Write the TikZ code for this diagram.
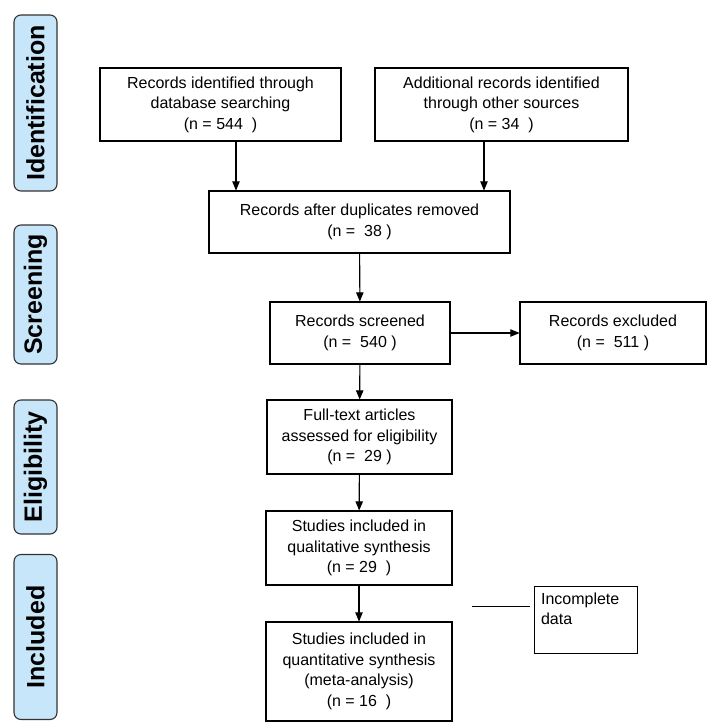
\documentclass[tikz,border=0pt]{standalone}
\usepackage{fontspec}
\setmainfont{Liberation Sans}
\usetikzlibrary{arrows}
\definecolor{stageblue}{RGB}{200,230,250}
\begin{document}
\begin{tikzpicture}[x=1pt,y=-1pt,
                    >=triangle 45,
                    line width=1.1pt,
                    box/.style={rectangle,draw,align=center,font=\fontsize{16}{20.5}\selectfont,inner sep=2pt},
                    stage/.style={rectangle,rounded corners=7pt,draw=black!80,fill=stageblue,
                                  font=\fontsize{25}{27}\selectfont\bfseries,rotate=90}
                    ]
  \useasboundingbox (0,0) rectangle (708,725);
  % stages
  \node[stage,minimum width=176,minimum height=43] (ident) at (35.5,103) {Identification};
  \node[stage,minimum width=139,minimum height=43] (screen) at (35.5,294.5) {Screening};
  \node[stage,minimum width=134,minimum height=43] (elig) at (35.5,467) {Eligibility};
  \node[stage,minimum width=165,minimum height=43] (incl) at (35.5,637) {Included};
  % boxes
  \node[box,minimum width=241,minimum height=73] (db) at (220.5,104.5) {Records identified through\\database searching\\(n = 544\ \ )};
  \node[box,minimum width=253,minimum height=73] (other) at (501.5,104.5) {Additional records identified\\through other sources\\(n = 34\ \ )};
  \node[box,minimum width=301,minimum height=62] (dup) at (359.5,222) {Records after duplicates removed\\(n =\ \ 38 )};
  \node[box,minimum width=180,minimum height=62] (scr) at (360,333) {Records screened\\(n =\ \ 540 )};
  \node[box,minimum width=186,minimum height=62] (excl) at (613,333) {Records excluded\\(n =\ \ 511 )};
  \node[box,minimum width=185,minimum height=74] (full) at (359.5,437) {Full-text articles\\assessed for eligibility\\(n =\ \ 29 )};
  \node[box,minimum width=186,minimum height=74] (qual) at (359,548) {Studies included in\\qualitative synthesis\\(n = 29\ \ )};
  \node[box,minimum width=186,minimum height=99] (quant) at (359,671.5) {Studies included in\\quantitative synthesis\\(meta-analysis)\\(n = 16\ \ )};
  \node[box,minimum width=103,minimum height=64,align=left,anchor=north west,text width=90,inner sep=6pt] (incomp) at (534,586) {Incomplete\\data\\[-4pt]\strut};
  \coordinate (a1) at (236,0);
  \coordinate (a2) at (484,0);
  \coordinate (l1) at (472,606);
  \coordinate (l2) at (530,606);
  % connectors
  \draw[->] (db.south -| a1) -- (dup.north -| a1);
  \draw[->] (other.south -| a2) -- (dup.north -| a2);
  \draw[->] (dup) -- (scr);
  \draw[->] (scr) -- (excl);
  \draw[->] (scr) -- (full);
  \draw[->] (full) -- (qual);
  \draw[->] (qual) -- (quant);
  \draw[thin] (l1) -- (l2);
\end{tikzpicture}
\end{document}
